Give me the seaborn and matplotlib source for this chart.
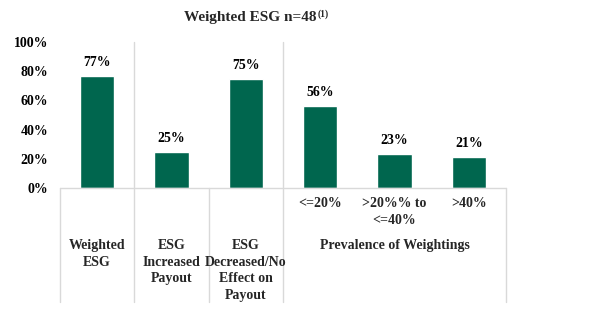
import matplotlib
matplotlib.use("Agg")
import matplotlib.pyplot as plt
import matplotlib.transforms as mtransforms
import seaborn as sns
import pandas as pd

# ---- data ----
bar_keys = ["Weighted ESG", "ESG Increased Payout", "ESG Decreased/No Effect on Payout",
            "<=20%", ">20%% to <=40%", ">40%"]
values = [77, 25, 75, 56, 23, 21]
value_labels = ["77%", "25%", "75%", "56%", "23%", "21%"]
sub_labels = ["", "", "", "<=20%", ">20%% to\n<=40%", ">40%"]
group_labels = ["Weighted\nESG", "ESG\nIncreased\nPayout", "ESG\nDecreased/No\nEffect on\nPayout",
                "Prevalence of Weightings"]
group_centers = [0, 1, 2, 4]
y_ticks = [0, 20, 40, 60, 80, 100]
y_tick_labels = ["0%", "20%", "40%", "60%", "80%", "100%"]
title = "Weighted ESG n=48"
title_note = "(1)"

GREEN = "#00664E"
GRID = "#D9D9D9"

sns.set_theme(style="white")
plt.rcParams["font.family"] = ["Liberation Serif", "DejaVu Serif"]
plt.rcParams["font.weight"] = "bold"

fig = plt.figure(figsize=(6, 3.3), dpi=100)
ax = fig.add_axes([60 / 600, 1 - 188 / 330, 446 / 600, 146 / 330])

df = pd.DataFrame({"cat": bar_keys, "val": values})
sns.barplot(data=df, x="cat", y="val", color=GREEN, width=0.46, ax=ax,
            saturation=1, order=bar_keys)
ax.set_xlim(-0.5, 5.5)
ax.set_ylim(0, 100)
ax.set_yticks(y_ticks)
ax.set_yticklabels(y_tick_labels, fontsize=10, fontweight="bold", color="black")
ax.tick_params(axis="y", length=0, pad=8.5)
ax.set_xticks([])
ax.set_xlabel("")
ax.set_ylabel("")
for s in ax.spines.values():
    s.set_visible(False)

ax.bar_label(ax.containers[0], labels=value_labels, padding=5, fontsize=10,
             fontweight="bold", color="black")

# table lines
bt = mtransforms.blended_transform_factory(ax.transData, fig.transFigure)
y0 = 1 - 188 / 330
ybot = 1 - 302 / 330
ytop = 1 - 42 / 330
line_kw = dict(color=GRID, lw=1, clip_on=False, transform=bt)
ax.plot([-0.5, 5.5], [y0, y0], **line_kw)
for xs in [-0.5, 1.5, 5.5]:
    ax.plot([xs, xs], [ybot, y0], **line_kw)
for xs in [0.5, 2.5]:
    ax.plot([xs, xs], [ybot, ytop], **line_kw)

for i, lab in enumerate(sub_labels):
    if lab:
        ax.text(i, 1 - 197 / 330, lab, transform=bt, ha="center", va="top",
                fontsize=10, fontweight="bold", linespacing=1.35)
for xc, lab in zip(group_centers, group_labels):
    ax.text(xc, 1 - 239 / 330, lab, transform=bt, ha="center", va="top",
            fontsize=10, fontweight="bold", linespacing=1.35)

fig.text(317 / 600, 1 - 17 / 330, title, ha="right", va="center",
         fontsize=11, fontweight="bold")
fig.text(318 / 600, 1 - 14 / 330, title_note, ha="left", va="center",
         fontsize=7, fontweight="bold")

fig.savefig("out.png", dpi=100, facecolor="white")
